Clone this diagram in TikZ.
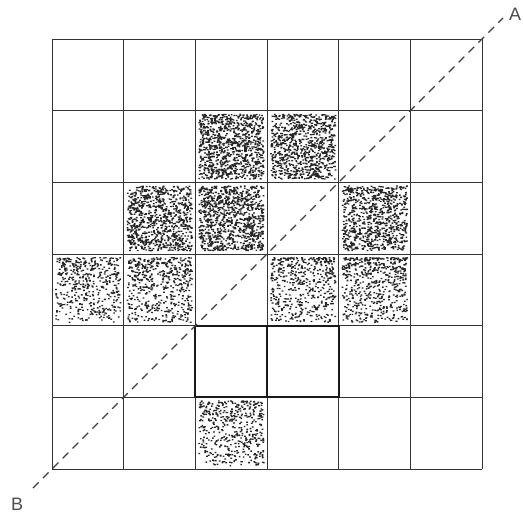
\documentclass[tikz,border=0pt]{standalone}
\usepackage{fontspec}
\setmainfont{Liberation Sans}
\begin{document}
\begin{tikzpicture}[x=1pt,y=-1pt,
  gridline/.style={draw=black!80, line width=1pt},
  boldline/.style={draw=black!90, line width=2.2pt},
  diag/.style={draw=black!75, line width=1.1pt, dash pattern=on 8pt off 6pt},
  lbl/.style={font=\fontsize{18}{20}\selectfont, text=black!70, inner sep=0pt}]
\useasboundingbox (0,0) rectangle (523,517);
\fill[white] (0,0) rectangle (523,517);
\def\cs{71.67}
\newcommand\stip[4]{%
  \fill[black!85] \foreach \k in {1,...,#3}{%
    ({52+#1*\cs+3+rnd*(\cs-7)},{39+#2*\cs+3+(\cs-7)*pow(rnd,#4)}) rectangle ++(1.7,1.3)
  };}
\pgfmathsetseed{7}
% dark cells
\stip{2}{1}{1000}{1}
\stip{3}{1}{900}{1}
\stip{1}{2}{900}{0.9}
\stip{2}{2}{1000}{1}
\stip{4}{2}{850}{1}
% lighter cells
\stip{0}{3}{480}{1.3}
\stip{1}{3}{540}{1.3}
\stip{3}{3}{520}{1.4}
\stip{4}{3}{580}{1.4}
\stip{2}{5}{480}{1.2}
% grid
\foreach \i in {0,...,6}{
  \draw[gridline] ({52+\i*\cs},39) -- ({52+\i*\cs},469);
  \draw[gridline] (52,{39+\i*\cs}) -- (482,{39+\i*\cs});
}
% bold outlined pair
\draw[boldline] ({52+2*\cs},{39+4*\cs}) rectangle ({52+4*\cs},{39+5*\cs});
\draw[boldline] ({52+3*\cs},{39+4*\cs}) -- ({52+3*\cs},{39+5*\cs});
% diagonal
\coordinate (bend) at (33,488);
\coordinate (aend) at (503,18);
\draw[diag] (bend) -- (aend);
\node[lbl, anchor=south west] (A) at (509,21) {A};
\node[lbl, anchor=south west] (B) at (11,511) {B};
\end{tikzpicture}
\end{document}
